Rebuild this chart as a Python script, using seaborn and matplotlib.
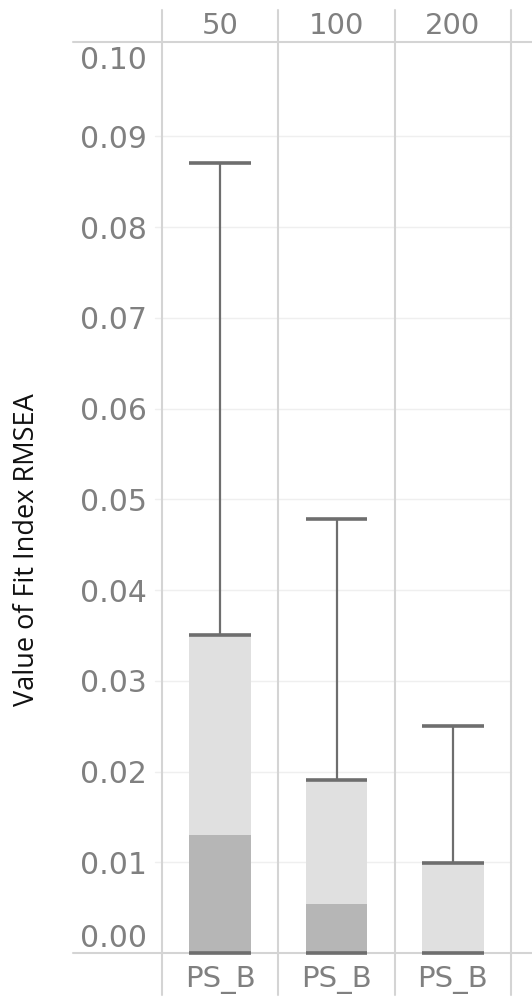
import numpy as np
import pandas as pd
import matplotlib
matplotlib.use("Agg")
import matplotlib.pyplot as plt
import matplotlib.transforms as mtransforms
import seaborn as sns

# box plot summary per sample size
sample_sizes = ["50", "100", "200"]
method = ["PS_B", "PS_B", "PS_B"]
lower_whisker = [0.0, 0.0, 0.0]
q1 = [0.0, 0.0, 0.0]
median = [0.0130, 0.0054, 0.0001]
q3 = [0.0350, 0.0191, 0.0099]
upper_whisker = [0.0871, 0.0478, 0.0250]
y_ticks = [0.00, 0.01, 0.02, 0.03, 0.04, 0.05, 0.06, 0.07, 0.08, 0.09, 0.10]

df = pd.DataFrame({"n": sample_sizes, "method": method, "low": lower_whisker,
                   "q1": q1, "med": median, "q3": q3, "high": upper_whisker})

sns.set_theme(style="white")
plt.rcParams["font.family"] = ["DejaVu Sans"]

W, H = 532, 1006
fig = plt.figure(figsize=(W / 100, H / 100), dpi=100)
left, right, top, bottom = 162, 511, 42, 953
ax = fig.add_axes([left / W, (H - bottom) / H, (right - left) / W, (bottom - top) / H])

box_w = 0.53
light, dark, line_c = "#e0e0e0", "#b6b6b6", "#6e6e6e"

# upper part of box (median..q3) then lower part (q1..median)
sns.barplot(data=df, x="n", y="q3", order=sample_sizes, color=light, saturation=1,
            width=box_w, ax=ax, linewidth=0)
sns.barplot(data=df, x="n", y="med", order=sample_sizes, color=dark, saturation=1,
            width=box_w, ax=ax, linewidth=0)

xs = np.arange(len(sample_sizes))
ax.vlines(xs, df["q3"], df["high"], color=line_c, lw=1.6, zorder=5)
ax.hlines(df["high"], xs - box_w / 2, xs + box_w / 2, color=line_c, lw=2.6, zorder=5)
ax.hlines(df["q3"], xs - box_w / 2, xs + box_w / 2, color=line_c, lw=2.6, zorder=5)
ax.hlines(df["low"], xs - box_w / 2, xs + box_w / 2, color=line_c, lw=2.6, zorder=5,
          clip_on=False)

ax.set_xlim(-0.5, 2.5)
ax.set_ylim(0, 0.1004)
for s in ax.spines.values():
    s.set_visible(False)


def ax_x(px):
    return (px - left) / (right - left)


def ax_y(py):
    return (bottom - py) / (bottom - top)


# faint gridlines
blend = mtransforms.blended_transform_factory(ax.transAxes, ax.transData)
for t in y_ticks[1:-1]:
    ax.plot([ax_x(155), 1], [t, t], transform=blend, color="#efefef", lw=1,
            zorder=0, clip_on=False)

grid_c = "#d4d4d4"
# header and footer rules
ax.plot([ax_x(73), ax_x(532)], [1, 1], transform=ax.transAxes, color=grid_c,
        lw=1.5, clip_on=False)
ax.plot([ax_x(73), ax_x(532)], [0, 0], transform=ax.transAxes, color=grid_c,
        lw=1.5, clip_on=False)
# panel dividers
for px in [162, 278, 395, 511]:
    ax.plot([ax_x(px), ax_x(px)], [ax_y(995), ax_y(10)], transform=ax.transAxes,
            color=grid_c, lw=1.5, clip_on=False)

txt_c = "#808080"
xblend = mtransforms.blended_transform_factory(ax.transData, ax.transAxes)
for x, n, m in zip(xs, sample_sizes, method):
    ax.text(x, ax_y(26), n, transform=xblend, ha="center", va="center",
            fontsize=21, color=txt_c)
    ax.text(x, ax_y(980), m, transform=xblend, ha="center", va="center",
            fontsize=21, color=txt_c)

ax.set_xticks([])
ax.set_xlabel("")
ax.set_yticks(y_ticks)
ax.set_yticklabels([f"{t:.2f}" for t in y_ticks], fontsize=21.5, color=txt_c)
ax.tick_params(axis="y", length=0, pad=11)
labels = ax.get_yticklabels()
labels[0].set_verticalalignment("bottom")
labels[-1].set_verticalalignment("top")

ax.set_ylabel("Value of Fit Index RMSEA", fontsize=19.5, color="#111111",
              family=["Open Sans", "DejaVu Sans"], va="center")
ax.yaxis.set_label_coords(ax_x(27), ax_y(550))

fig.savefig("out.png", dpi=100)
